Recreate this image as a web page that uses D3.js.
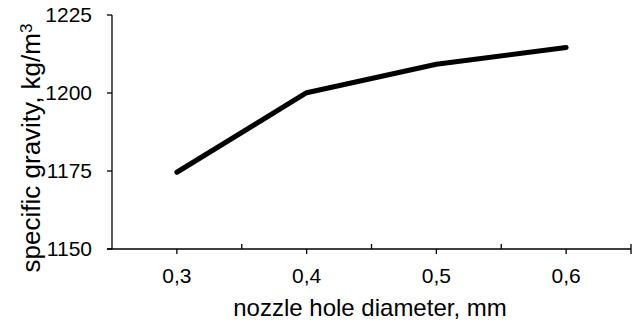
<!DOCTYPE html>
<html>
<head>
<meta charset="utf-8">
<script src="https://cdn.jsdelivr.net/npm/d3@7"></script>
<style>
  body { margin: 0; background: #fff; }
  text { font-family: "Liberation Sans", Arial, sans-serif; fill: #000; }
</style>
</head>
<body>
<div id="chart"></div>
<script>
const diameters = ["0,3", "0,4", "0,5", "0,6"];
const gravity = [1174.6, 1200.1, 1209.2, 1214.6];
const yTicks = [1150, 1175, 1200, 1225];

const width = 634, height = 322;
const margin = { top: 15, right: 3, bottom: 73, left: 112 };

const svg = d3.select("#chart").append("svg")
    .attr("width", width)
    .attr("height", height);

const x = d3.scaleBand()
    .domain(diameters)
    .range([margin.left, width - margin.right]);

const y = d3.scaleLinear()
    .domain([1150, 1225])
    .range([height - margin.bottom, margin.top]);

const y0 = y(1150);

// y axis
const yAxis = svg.append("g");
yAxis.append("line")
    .attr("x1", margin.left).attr("x2", margin.left)
    .attr("y1", y(1225)).attr("y2", y0)
    .attr("stroke", "#000").attr("stroke-width", 1.3);
yTicks.forEach(t => {
    yAxis.append("line")
        .attr("x1", margin.left - 5).attr("x2", margin.left)
        .attr("y1", y(t)).attr("y2", y(t))
        .attr("stroke", "#000").attr("stroke-width", 1.3);
    yAxis.append("text")
        .attr("x", margin.left - 20)
        .attr("y", y(t))
        .attr("dy", "0.35em")
        .attr("text-anchor", "end")
        .style("font-size", "21px")
        .text(t);
});

// x axis
const xAxis = svg.append("g");
const xEnd = width - margin.right;
xAxis.append("line")
    .attr("x1", margin.left - 5).attr("x2", xEnd)
    .attr("y1", y0).attr("y2", y0)
    .attr("stroke", "#000").attr("stroke-width", 1.3);
diameters.forEach(d => {
    const cx = x(d) + x.bandwidth() / 2;
    xAxis.append("line")
        .attr("x1", cx).attr("x2", cx)
        .attr("y1", y0).attr("y2", y0 + 5)
        .attr("stroke", "#000").attr("stroke-width", 1.3);
    const bx = x(d) + x.bandwidth();
    xAxis.append("line")
        .attr("x1", bx).attr("x2", bx)
        .attr("y1", y0 - 5).attr("y2", bx >= xEnd - 1 ? y0 + 5 : y0)
        .attr("stroke", "#000").attr("stroke-width", 1.3);
    xAxis.append("text")
        .attr("x", cx)
        .attr("y", y0 + 34)
        .attr("text-anchor", "middle")
        .style("font-size", "21px")
        .text(d);
});

// line
const line = d3.line()
    .x((d, i) => x(diameters[i]) + x.bandwidth() / 2)
    .y(d => y(d));

svg.append("path")
    .datum(gravity)
    .attr("fill", "none")
    .attr("stroke", "#000")
    .attr("stroke-width", 5)
    .attr("stroke-linecap", "round")
    .attr("stroke-linejoin", "round")
    .attr("d", line);

// axis titles
svg.append("text")
    .attr("x", 370)
    .attr("y", 316)
    .attr("text-anchor", "middle")
    .style("font-size", "24px")
    .text("nozzle hole diameter, mm");

const yTitle = svg.append("text")
    .attr("transform", `translate(40,148) rotate(-90)`)
    .attr("text-anchor", "middle")
    .style("font-size", "26px");
yTitle.append("tspan").text("specific gravity, kg/m");
yTitle.append("tspan").attr("dy", "-0.45em").style("font-size", "17px").text("3");
</script>
</body>
</html>
